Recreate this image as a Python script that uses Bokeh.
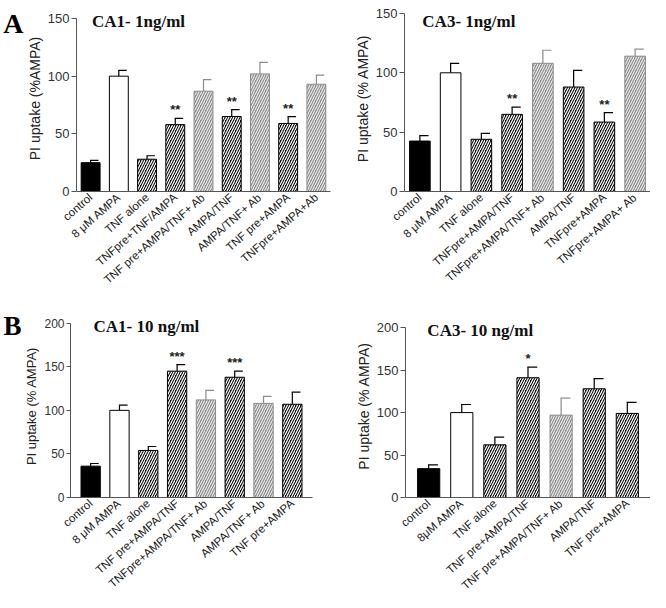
from bokeh.plotting import figure
from bokeh.models import (ColumnDataSource, FactorRange, Range1d, FixedTicker, Label,
                          LinearAxis)
from bokeh.layouts import column, row
from bokeh.transform import dodge
from bokeh.embed import file_html
from bokeh.resources import INLINE

# ---------------- data ----------------
cats_a1 = ["control", "8 \u03bcM AMPA", "TNF alone", "TNFpre+TNF/AMPA",
           "TNF pre+AMPA/TNF+ Ab", "AMPA/TNF", "AMPA/TNF+ Ab",
           "TNF pre+AMPA", "TNFpre+AMPA+Ab"]
vals_a1 = [25, 100, 28, 58, 87, 65, 102, 59, 93]
errs_a1 = [2, 5, 3, 5.5, 10, 6, 10, 6, 8]
kind_a1 = ["solid", "open", "dark", "dark", "gray", "dark", "gray", "dark", "gray"]
sig_a1 = ["", "", "", "**", "", "**", "", "**", ""]

cats_a3 = ["control", "8 \u03bcM AMPA", "TNF alone", "TNFpre+AMPA/TNF",
           "TNFpre+AMPA/TNF+ Ab", "AMPA/TNF", "TNFpre+AMPA", "TNFpre+AMPA+ Ab"]
vals_a3 = [42.5, 100, 44, 65, 108, 88, 58.5, 114]
errs_a3 = [4.5, 8, 5, 6, 11, 14, 8, 6]
kind_a3 = ["solid", "open", "dark", "dark", "gray", "dark", "dark", "gray"]
sig_a3 = ["", "", "", "**", "", "", "**", ""]

cats_b1 = ["control", "8 \u03bcM AMPA", "TNF alone", "TNF pre+AMPA/TNF",
           "TNFpre+AMPA/TNF+ Ab", "AMPA/TNF", "AMPA/TNF+ Ab", "TNF pre+AMPA"]
vals_b1 = [36, 100, 54, 145, 112, 138, 108, 107]
errs_b1 = [3, 6, 4.5, 7.5, 11, 7, 8, 14]
kind_b1 = ["solid", "open", "dark", "dark", "gray", "dark", "gray", "dark"]
sig_b1 = ["", "", "", "***", "", "***", "", ""]

cats_b3 = ["control", "8\u03bcM AMPA", "TNF alone", "TNF pre+AMPA/TNF",
           "TNF pre+AMPA/TNF+ Ab", "AMPA/TNF", "TNF pre+AMPA"]
vals_b3 = [34, 100, 62, 141, 97, 128, 99]
errs_b3 = [4.5, 9.5, 9, 12.5, 20, 12, 13]
kind_b3 = ["solid", "open", "dark", "dark", "gray", "dark", "dark"]
sig_b3 = ["", "", "", "*", "", "", ""]

# ---------------- styles ----------------
STYLE = {
    "solid": dict(fill="#000000", line="#000000", hatch=" ", hcolor="#000000", err="#000000"),
    "open": dict(fill="#ffffff", line="#000000", hatch=" ", hcolor="#000000", err="#000000"),
    "dark": dict(fill="#101010", line="#000000", hatch="/", hcolor="#ffffff", err="#000000"),
    "gray": dict(fill="#8c8c8c", line="#8c8c8c", hatch="/", hcolor="#e8e8e8", err="#8c8c8c"),
}

SANS = "Liberation Sans"
SERIF = "Liberation Serif"


def panel(cats, vals, errs, kinds, sig, ymax, ytop, ylabel, title, title_x, title_y,
          width, height, bl, br, bt, bb, pad, tick_fs="13px", lab_fs="14px",
          tick_out=5, letter=None, letter_y=None, letter_fs="28px"):
    src = ColumnDataSource(dict(
        cat=cats, val=vals, upper=[v + e for v, e in zip(vals, errs)],
        fill=[STYLE[k]["fill"] for k in kinds],
        line=[STYLE[k]["line"] for k in kinds],
        hatch=[STYLE[k]["hatch"] for k in kinds],
        hcolor=[STYLE[k]["hcolor"] for k in kinds],
        err=[STYLE[k]["err"] for k in kinds],
        sig=sig,
    ))
    p = figure(x_range=FactorRange(factors=cats, range_padding=pad,
                                   range_padding_units="absolute"),
               y_range=Range1d(0, ytop), width=width, height=height,
               min_border_left=bl, min_border_right=br,
               min_border_top=bt, min_border_bottom=bb,
               output_backend="svg", toolbar_location=None)
    p.xgrid.visible = False
    p.ygrid.visible = False
    p.outline_line_color = None
    p.background_fill_color = "white"

    p.segment(x0="cat", y0="val", x1="cat", y1="upper", source=src,
              line_color="err", line_width=1.2)
    p.segment(x0=dodge("cat", -0.02, range=p.x_range), y0="upper",
              x1=dodge("cat", 0.28, range=p.x_range), y1="upper", source=src,
              line_color="err", line_width=1.2)
    p.vbar(x="cat", top="val", bottom=0, width=0.67, source=src,
           fill_color="fill", line_color="line", line_width=1,
           hatch_pattern="hatch", hatch_color="hcolor", hatch_scale=5,
           hatch_weight=1.2)
    p.text(x="cat", y="upper", text="sig", source=src, text_align="center",
           text_baseline="bottom", y_offset=-1, text_font_size="13px",
           text_font_style="bold", text_color="#222222")

    p.xaxis.major_label_orientation = 0.72
    p.xaxis.major_tick_line_color = None
    p.xaxis.major_tick_out = 0
    p.xaxis.major_tick_in = 0
    p.xaxis.minor_tick_line_color = None
    p.xaxis.axis_line_color = "#555555"
    p.xaxis.major_label_text_font = SANS
    p.xaxis.major_label_text_font_size = "11.5px"
    p.xaxis.major_label_text_color = "#222222"
    p.xaxis.major_label_standoff = 4

    p.yaxis.ticker = FixedTicker(ticks=list(range(0, ymax + 1, 50)))
    p.yaxis.bounds = (0, ymax)
    p.yaxis.major_tick_out = tick_out
    p.yaxis.major_tick_in = 0
    p.yaxis.minor_tick_line_color = None
    p.yaxis.axis_line_color = "#555555"
    p.yaxis.major_tick_line_color = "#555555"
    p.yaxis.major_label_text_font = SANS
    p.yaxis.major_label_text_font_size = tick_fs
    p.yaxis.major_label_text_color = "#333333"
    p.yaxis.major_label_standoff = 2
    p.yaxis.axis_label = ylabel
    p.yaxis.axis_label_text_font = SANS
    p.yaxis.axis_label_text_font_style = "normal"
    p.yaxis.axis_label_text_font_size = lab_fs
    p.yaxis.axis_label_text_color = "#222222"
    p.yaxis.axis_label_standoff = 2

    p.add_layout(Label(x=title_x, y=title_y, text=title, text_font=SERIF,
                       text_font_style="bold", text_font_size="17px",
                       text_baseline="top", text_color="#111111"))

    if letter is not None:
        la = LinearAxis(ticker=FixedTicker(ticks=[letter_y]),
                        major_label_overrides={letter_y: letter},
                        axis_line_color=None, major_tick_line_color=None,
                        minor_tick_line_color=None, major_tick_out=0, major_tick_in=0,
                        major_label_standoff=0, major_label_text_font=SERIF,
                        major_label_text_font_style="bold",
                        major_label_text_font_size=letter_fs,
                        major_label_text_color="#000000")
        p.add_layout(la, "left")
    return p


p1 = panel(cats_a1, vals_a1, errs_a1, kind_a1, sig_a1, 150, 161.3, "PI uptake (%AMPA)",
           "CA1- 1ng/ml", 0.55, 156, 340, 310, 69, 10, 5, 119, 0,
           letter="A", letter_y=146, letter_fs="28px")
p2 = panel(cats_a3, vals_a3, errs_a3, kind_a3, sig_a3, 150, 156.7, "PI uptake (% AMPA)",
           "CA3- 1ng/ml", 0.58, 151, 310, 310, 64, 0, 4, 119, 0)
p3 = panel(cats_b1, vals_b1, errs_b1, kind_b1, sig_b1, 200, 210, "PI uptake (% AMPA)",
           "CA1- 10 ng/ml", 0.6, 207.7, 340, 290, 61, 28, 4, 103, 0.2,
           tick_fs="12px", lab_fs="13px", tick_out=4,
           letter="B", letter_y=197, letter_fs="27px")
p4 = panel(cats_b3, vals_b3, errs_b3, kind_b3, sig_b3, 200, 215.5, "PI uptake (% AMPA)",
           "CA3- 10 ng/ml", 0.46, 207.5, 310, 290, 65, 0, 4, 101, 0.2)

layout = column(row(p1, p2), row(p3, p4))
open("out.html", "w").write(file_html(layout, INLINE))
